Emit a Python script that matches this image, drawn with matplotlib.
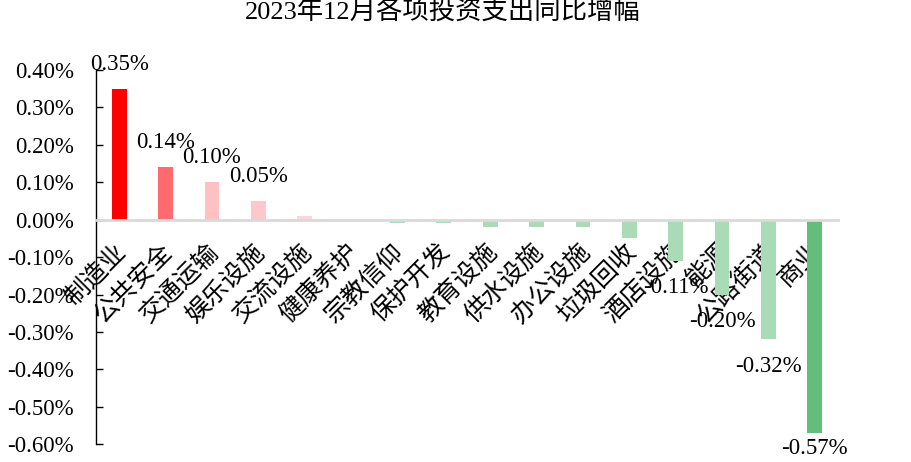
import matplotlib
matplotlib.use("Agg")
import matplotlib.pyplot as plt
import matplotlib.transforms as mtransforms
from matplotlib.ticker import FixedLocator, FuncFormatter

plt.rcParams['axes.unicode_minus'] = False

# Year-on-year change of each investment spending category, Dec 2023 (%)
categories = ['制造业', '公共安全', '交通运输', '娱乐设施', '交流设施', '健康养护',
              '宗教信仰', '保护开发', '教育设施', '供水设施', '办公设施', '垃圾回收',
              '酒店设施', '能源', '公路街道', '商业']
values = [0.35, 0.14, 0.10, 0.05, 0.01, 0.00,
          -0.01, -0.01, -0.02, -0.02, -0.02, -0.05,
          -0.11, -0.20, -0.32, -0.57]
bar_colors = ['#FF0000', '#FF6B6E', '#FFC0C4', '#FCC8CC', '#FCD5D8', '#FCD5D8',
              '#A9DBB6', '#A9DBB6', '#A9DBB6', '#A9DBB6', '#A9DBB6', '#A9DBB6',
              '#A9DBB6', '#A9DBB6', '#A9DBB6', '#63BE7B']
y_ticks = [-0.6, -0.5, -0.4, -0.3, -0.2, -0.1, 0.0, 0.1, 0.2, 0.3, 0.4]
title = '2023年12月各项投资支出同比增幅'

serif = ['Liberation Serif', 'Noto Sans CJK SC']
cjk = ['Noto Sans CJK SC', 'DejaVu Sans']

W, H = 912, 462
fig = plt.figure(figsize=(W / 100, H / 100), dpi=100)
ax = fig.add_axes([96 / W, (H - 444.3) / H, (838 - 96) / W, (444.3 - 69.9) / H])

x = list(range(len(categories)))
ax.bar(x, values, width=0.32, color=bar_colors, zorder=2)

ax.set_xlim(-0.5, len(categories) - 0.5)
ax.set_ylim(-0.6, 0.4)

# y axis: black spine with inward ticks, percentage labels
ax.yaxis.set_major_locator(FixedLocator(y_ticks))
ax.yaxis.set_major_formatter(FuncFormatter(lambda v, p: f'{v:.2f}%'))
ax.tick_params(axis='y', direction='in', length=5, width=1, color='black',
               pad=16, labelsize=16.5)
for lab in ax.get_yticklabels():
    lab.set_fontfamily(serif)
ax.spines['left'].set_color('black')
ax.spines['left'].set_linewidth(1)

# x axis sits on the zero line, category names hang below it
ax.spines['bottom'].set_position(('data', 0))
ax.spines['bottom'].set_color('#D9D9D9')
ax.spines['bottom'].set_linewidth(2)
ax.spines['bottom'].set_zorder(3)
ax.spines['top'].set_visible(False)
ax.spines['right'].set_visible(False)
ax.set_xticks(x)
ax.set_xticklabels(categories)
ax.tick_params(axis='x', length=0, pad=20)
shift = mtransforms.ScaledTranslation(3 / 100, 0, fig.dpi_scale_trans)
for lab in ax.get_xticklabels():
    lab.set_fontfamily(cjk)
    lab.set_fontsize(18)
    lab.set_rotation(45)
    lab.set_rotation_mode('anchor')
    lab.set_ha('right')
    lab.set_va('center')
    lab.set_transform(lab.get_transform() + shift)

# value labels on the four largest and four smallest bars
order = sorted(x, key=lambda i: values[i])
labelled = order[:4] + order[-4:]
fig.canvas.draw()
for i in labelled:
    v = values[i]
    xd, yd = ax.transData.transform((i, v))
    if v >= 0:
        yd += 24.5
    else:
        yd = max(yd - 27, 13)
    xf, yf = fig.transFigure.inverted().transform((xd, yd))
    fig.text(xf, yf, f'{v:.2f}%', ha='center', va='center',
             fontsize=16.5, family=serif, zorder=5)

fig.text(443 / W, 1 - 12 / H, title, ha='center', va='center',
         fontsize=19, family=serif)

fig.savefig('out.png', dpi=100, facecolor='white')
